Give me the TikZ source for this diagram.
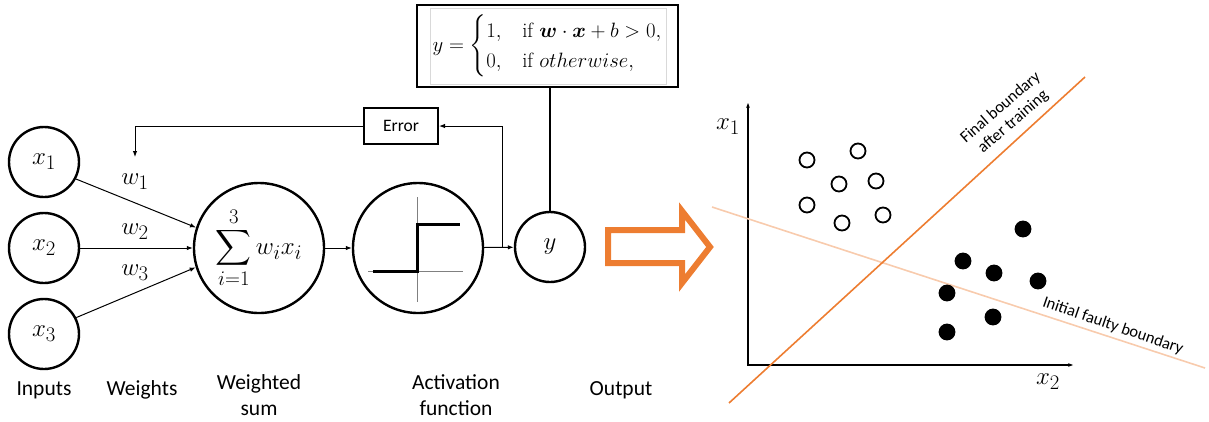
\documentclass[tikz,border=0pt]{standalone}
\usepackage{amsmath}
\usepackage{amsfonts, amssymb}
\usepackage{fontspec}
\newfontfamily\calibri{Carlito}
\usepackage{tikz}
\usetikzlibrary{arrows.meta, positioning, calc}
\definecolor{orangeline}{RGB}{237,125,49}
\definecolor{peachline}{RGB}{248,203,173}

\begin{document}
\begin{tikzpicture}[x=1pt, y=-1pt,
    neuron/.style={circle, draw, line width=2.4pt, minimum size=70pt, inner sep=0pt, font=\fontsize{24.88}{30}\selectfont},
    bigneuron/.style={circle, draw, line width=2.4pt, minimum size=130pt, inner sep=0pt},
    wire/.style={-{Latex[length=6pt,width=4.5pt]}, line width=1pt},
    caption/.style={font=\calibri\fontsize{21.5}{26}\selectfont, align=center},
    tag/.style={font=\calibri\fontsize{16.5}{19}\selectfont, align=center},
    weight/.style={font=\fontsize{24.88}{29}\selectfont},
    dot/.style={circle, draw, line width=1.8pt, minimum size=15pt, inner sep=0pt},
    fulldot/.style={dot, fill=black},
    axis/.style={line width=1.5pt}]
  \useasboundingbox (0,0) rectangle (1209,421);

  % perceptron
  \node[neuron] (x1) at (44,162) {$x_1$};
  \node[neuron] (x2) at (44,248) {$x_2$};
  \node[neuron] (x3) at (44,334) {$x_3$};
  \node[bigneuron] (sum) at (259,248) {\fontsize{24.88}{28}\selectfont$\displaystyle\sum_{i=1}^{3} w_i x_i$};
  \node[bigneuron] (act) at (418,248) {};
  \node[neuron] (out) at (550,247) {$y$};
  \node[draw, line width=2.4pt, minimum width=261pt, minimum height=82pt, inner sep=0pt] (rule) at (547.5,46)
    {\fontsize{20.74}{25}\selectfont$y=\begin{cases}1, & \text{if } \boldsymbol{w}\cdot\boldsymbol{x}+b>0,\\ 0, & \text{if } otherwise,\end{cases}$};
  \draw[gray!30, line width=0.6pt] ($(rule.south west)+(14,-4)$) rectangle ($(rule.north east)+(-13,4)$);
  \node[draw, line width=2pt, minimum width=74pt, minimum height=36pt, inner sep=0pt,
    font=\calibri\fontsize{17.5}{20}\selectfont] (err) at (401,126) {Error};

  \node[weight] (w1) at (135,182) {$w_1$};
  \node[weight] (w2) at (135,232) {$w_2$};
  \node[weight] (w3) at (135,273) {$w_3$};

  \draw[wire] (x1.-28) -- (sum.162);
  \draw[wire] (x2) -- (sum);
  \draw[wire] (x3.27) -- (sum.-163);
  \draw[wire] (sum) -- (act);
  \draw[wire] (act) -- (out);
  \draw[line width=2.4pt] (rule.south -| out) -- (out);
  \coordinate (tap) at (502,247);
  \coordinate (back) at (135,157);
  \draw[wire] (tap) |- (err);
  \draw[wire] (err.west) -| (back);

  % step function
  \draw[gray, line width=0.6pt] ($(act)+(-50,23)$) -- ($(act)+(45,23)$);
  \draw[gray, line width=0.6pt] ($(act)+(-1,-51)$) -- ($(act)+(-1,54)$);
  \draw[line width=3pt] ($(act)+(-45,23)$) -- ($(act)+(-1,23)$) -- ($(act)+(-1,-24)$) -- ($(act)+(42,-24)$);

  \node[caption] (lin) at (44,390) {Inputs};
  \node[caption] (lw) at (142,390) {Weights};
  \node[caption] (ls) at (259,395) {Weighted\\sum};
  \node[caption] (la) at (456,395) {Activation\\function};
  \node[caption] (lo) at (621,390) {Output};

  % big arrow
  \draw[orangeline, line width=6pt, miter limit=4] (608,230) -- (682,230) -- (682,211) -- (710,247)
    -- (682,283) -- (682,263) -- (608,263) -- cycle;

  % decision plot
  \coordinate (O) at (748,365);
  \coordinate (ytop) at (748,103);
  \coordinate (xend) at (1073,365);
  \draw[axis, {Stealth[length=5pt]}-{Stealth[length=5pt]}] (ytop) -- (O) -- (xend);
  \node[weight] (ax1) at (728,127) {$x_1$};
  \node[weight] (ax2) at (1048,382) {$x_2$};

  \coordinate (ia) at (712,207);
  \coordinate (ib) at (1205,368);
  \draw[peachline, line width=1.6pt] (ia) -- (ib);
  \coordinate (fa) at (729,403);
  \coordinate (fb) at (1085,77);
  \draw[orangeline, line width=1.6pt] (fa) -- (fb);

  \foreach \p [count=\i] in {(807,160),(858,151),(839,184),(876,181),(807,205),(842,223),(883,215)}
    \node[dot] (o\i) at \p {};
  \foreach \p [count=\i] in {(1023,229),(963,261),(994,273),(1038,281),(947,293),(993,317),(947,332)}
    \node[fulldot] (f\i) at \p {};

  \node[tag, rotate=41] (lfin) at (1007,115) {Final boundary\\after training};
  \node[tag, rotate=-19] (lini) at (1113,326) {Initial faulty boundary};
\end{tikzpicture}
\end{document}
